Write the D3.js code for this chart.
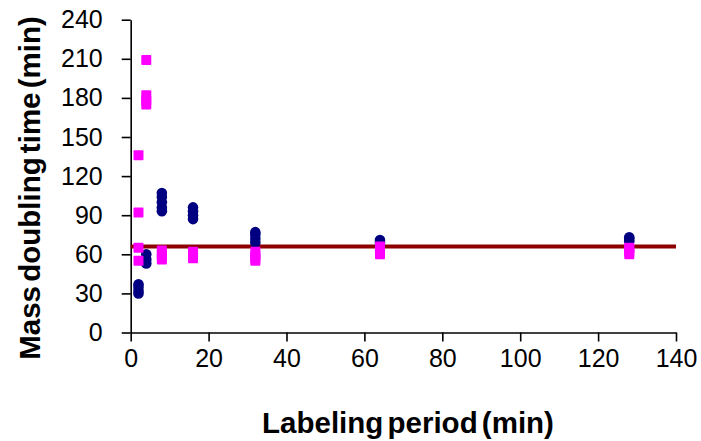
<!DOCTYPE html>
<html>
<head>
<meta charset="utf-8">
<script src="https://cdn.jsdelivr.net/npm/d3@7"></script>
<style>
  body { margin: 0; background: #fff; }
  svg { display: block; font-family: "Liberation Sans", Arial, sans-serif; }
</style>
</head>
<body>
<svg class="chart" width="701" height="441"></svg>
<script>
// labeling periods (min) and mass doubling times (min)
const navyX = [2, 2, 2, 2, 4, 4, 4, 8, 8, 8, 8, 8, 16, 16, 16, 16, 32, 32, 32, 32, 64, 64, 64, 128, 128, 128];
const navyY = [30, 32, 35, 37, 53, 56, 60, 93, 96, 100, 104, 107, 87, 90, 93, 96, 69, 72, 75, 77, 67, 69, 71, 70, 72, 73];
const pinkX = [2, 2, 2, 2, 4, 4, 4, 4, 8, 8, 8, 8, 16, 16, 16, 16, 32, 32, 32, 32, 64, 64, 64, 64, 128, 128, 128, 128];
const pinkY = [55, 65, 92, 136, 175, 178, 182, 209, 56, 58, 60, 63, 57, 59, 61, 62, 55, 57, 59, 62, 60, 62, 64, 66, 60, 62, 64, 65];
const meanLine = 66;
const xTicks = [0, 20, 40, 60, 80, 100, 120, 140];
const yTicks = [0, 30, 60, 90, 120, 150, 180, 210, 240];

const margin = {left: 130.7, top: 19.7, right: 25, bottom: 108.5};
const width = 701 - margin.left - margin.right;
const height = 441 - margin.top - margin.bottom;

const svg = d3.select('svg.chart');
const g = svg.append('g').attr('transform', `translate(${margin.left},${margin.top})`);

const x = d3.scaleLinear().domain([0, 140]).range([0, width]);
const y = d3.scaleLinear().domain([0, 240]).range([height, 0]);

const xAxis = g.append('g')
  .attr('transform', `translate(0,${height})`)
  .call(d3.axisBottom(x).tickValues(xTicks).tickSize(9).tickPadding(8).tickSizeOuter(0));
const yAxis = g.append('g')
  .call(d3.axisLeft(y).tickValues(yTicks).tickSize(9).tickPadding(19).tickSizeOuter(0));

[xAxis, yAxis].forEach(a => {
  a.selectAll('path, line').attr('stroke', '#000').attr('stroke-width', 1.6);
  a.selectAll('text').attr('fill', '#000').style('font-size', '25px');
});

// mean doubling time
g.append('line')
  .attr('x1', x(0)).attr('x2', x(140))
  .attr('y1', y(meanLine)).attr('y2', y(meanLine))
  .attr('stroke', '#8e0000').attr('stroke-width', 4);

const navy = navyX.map((d, i) => ({x: d, y: navyY[i]}));
const pink = pinkX.map((d, i) => ({x: d, y: pinkY[i]}));

g.selectAll('circle.navy')
  .data(navy)
  .enter()
  .append('circle')
  .classed('navy', true)
  .attr('cx', d => x(d.x))
  .attr('cy', d => y(d.y))
  .attr('r', 5.3)
  .attr('fill', '#000080');

const sq = 10;
g.selectAll('rect.pink')
  .data(pink)
  .enter()
  .append('rect')
  .classed('pink', true)
  .attr('x', d => x(d.x) - sq / 2)
  .attr('y', d => y(d.y) - sq / 2)
  .attr('width', sq)
  .attr('height', sq)
  .attr('rx', 1)
  .attr('fill', '#ff00ff');

// axis titles
svg.append('text')
  .attr('x', 408).attr('y', 433)
  .attr('text-anchor', 'middle')
  .style('font-size', '29.5px').style('font-weight', 'bold')
  .style('word-spacing', '-4px')
  .text('Labeling period (min)');

svg.append('text')
  .attr('transform', 'translate(40,188) rotate(-90)')
  .attr('text-anchor', 'middle')
  .style('font-size', '29.5px').style('font-weight', 'bold')
  .style('word-spacing', '-4px')
  .text('Mass doubling time (min)');
</script>
</body>
</html>
